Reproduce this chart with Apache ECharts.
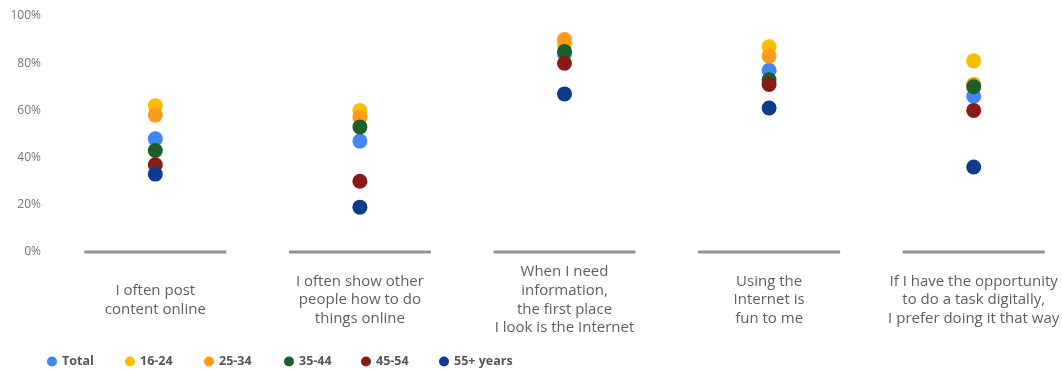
<!DOCTYPE html>
<html>
<head>
<meta charset="utf-8">
<script src="https://cdn.jsdelivr.net/npm/echarts@6/dist/echarts.min.js"></script>
<style>html,body{margin:0;padding:0;background:#fff;}#c{width:1062px;height:370px;}</style>
</head>
<body>
<div id="c"></div>
<script>
const categories = [
  "I often post\ncontent online",
  "I often show other\npeople how to do\nthings online",
  "When I need\ninformation,\nthe first place\nI look is the Internet",
  "Using the\nInternet is\nfun to me",
  "If I have the opportunity\nto do a task digitally,\nI prefer doing it that way"
];
const seriesNames = ["Total", "16-24", "25-34", "35-44", "45-54", "55+ years"];
const total   = [48, 47, 84, 77, 66];
const age1624 = [62, 60, 88, 87, 81];
const age2534 = [58, 57, 90, 83, 71];
const age3544 = [43, 53, 85, 73, 70];
const age4554 = [37, 30, 80, 71, 60];
const age55   = [33, 19, 67, 61, 36];
const baseline = [0, 0, 0, 0, 0];
const colors = ["#4285F4", "#FBBC05", "#FF9A1A", "#1B5E2A", "#8A1A15", "#0D3B8E"];
const yTicks = [0, 20, 40, 60, 80, 100];

const values = [total, age1624, age2534, age3544, age4554, age55];
const chart = echarts.init(document.getElementById('c'), null, {renderer: 'canvas'});
const series = [{
  name: 'baseline', type: 'scatter', data: baseline, symbol: 'rect',
  symbolSize: [142, 3], itemStyle: {color: '#777777'}, silent: true, z: 1
}];
values.forEach((v, i) => series.push({
  name: seriesNames[i], type: 'scatter', data: v, symbolSize: 15,
  itemStyle: {color: colors[i], opacity: 1}, z: 2 + i
}));
const legendLefts = [47, 125, 204, 284, 361, 439];
const legends = seriesNames.map((n, i) => ({
  data: [n], left: legendLefts[i], top: 355, icon: 'circle', padding: 0,
  itemWidth: 10, itemHeight: 10, itemGap: 5,
  textStyle: {fontFamily: 'Open Sans', fontWeight: 'bold', fontSize: 12.5, color: '#555'}
}));
chart.setOption({
  animation: false,
  textStyle: {fontFamily: 'Open Sans'},
  grid: {left: 53, width: 1023, top: 16, height: 236, outerBoundsMode: 'none', containLabel: false},
  legend: legends,
  xAxis: {
    type: 'category', data: categories, boundaryGap: true,
    axisLine: {show: false}, axisTick: {show: false}, splitLine: {show: false},
    axisLabel: {interval: 0, fontSize: 15, color: '#5f5f5f', lineHeight: 18.7, verticalAlign: 'middle', margin: 48, fontFamily: 'Open Sans'}
  },
  yAxis: {
    type: 'value', min: yTicks[0], max: yTicks[yTicks.length - 1], interval: 20,
    axisLine: {show: false}, axisTick: {show: false}, splitLine: {show: false},
    axisLabel: {formatter: '{value}%', fontSize: 12, color: '#777', margin: 12, fontFamily: 'Open Sans'}
  },
  series: series
});
</script>
</body>
</html>
